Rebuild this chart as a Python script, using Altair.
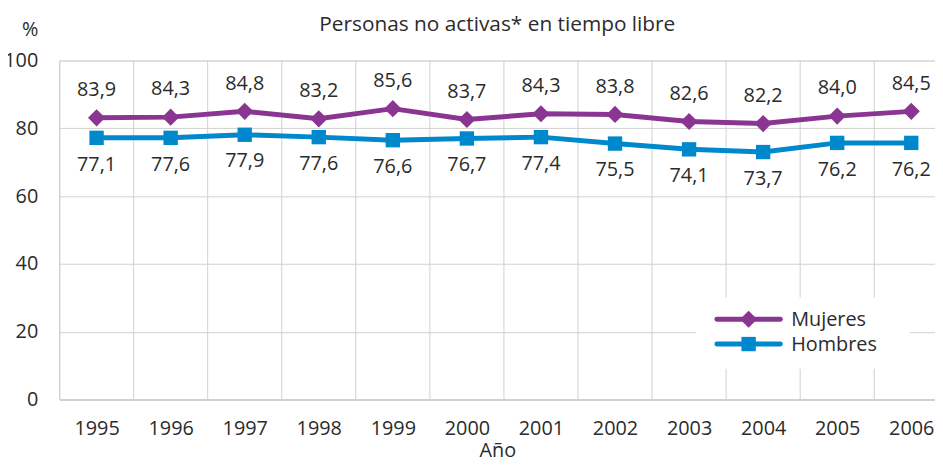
import altair as alt
import pandas as pd

years = list(range(1995, 2007))
series_names = ["Mujeres", "Hombres"]
mujeres_plot = [83.1, 83.3, 85.0, 82.8, 85.8, 82.6, 84.3, 84.1, 82.0, 81.4, 83.6, 85.0]
hombres_plot = [77.2, 77.2, 78.1, 77.4, 76.5, 77.0, 77.4, 75.5, 73.8, 73.0, 75.7, 75.7]
mujeres_labels = ["83,9", "84,3", "84,8", "83,2", "85,6", "83,7", "84,3", "83,8", "82,6", "82,2", "84,0", "84,5"]
hombres_labels = ["77,1", "77,6", "77,9", "77,6", "76,6", "76,7", "77,4", "75,5", "74,1", "73,7", "76,2", "76,2"]
y_ticks = [0, 20, 40, 60, 80, 100]

colors = ["#8B3593", "#0088CC"]
shapes = ["diamond", "square"]
FONT = "Open Sans"
TXT = "#2b2b2b"
GRID = "#d0d0d0"

rows = []
for i, y in enumerate(years):
    rows.append({"year": y, "series": "Mujeres", "value": mujeres_plot[i], "label": mujeres_labels[i]})
    rows.append({"year": y, "series": "Hombres", "value": hombres_plot[i], "label": hombres_labels[i]})
df = pd.DataFrame(rows)

bounds = pd.DataFrame({"year": [y - 0.5 for y in years]})

W, H = 883, 342
band = 74.7
xscale = alt.Scale(domain=[years[0] - 0.5, years[0] - 0.5 + W / band], nice=False, zero=False)
yscale = alt.Scale(domain=[0, 100], nice=False)
cscale = alt.Scale(domain=series_names, range=colors)
sscale = alt.Scale(domain=series_names, range=shapes)

x_axis = alt.Axis(values=years, format="d", grid=False, ticks=False,
                  domain=True, domainColor=GRID, domainWidth=2,
                  labelFont=FONT, labelFontSize=20, labelColor=TXT,
                  labelPadding=19, title="Año", titleFont=FONT,
                  titleFontSize=20, titleFontWeight="normal", titleColor=TXT,
                  titlePadding=2)
y_axis = alt.Axis(values=y_ticks, grid=True, gridColor=GRID, gridWidth=1,
                  domain=False, ticks=False, labelFont=FONT, labelFontSize=20,
                  labelColor=TXT, labelPadding=22, title="%", titleAngle=0,
                  titleX=-30, titleY=-31, titleAlign="center",
                  titleBaseline="middle", titleFont=FONT, titleFontSize=20,
                  titleFontWeight="normal", titleColor=TXT)

vgrid = alt.Chart(bounds).mark_rule(color=GRID, strokeWidth=1).encode(
    x=alt.X("year:Q", scale=xscale, axis=x_axis), y=alt.value(0), y2=alt.value(H))

base = alt.Chart(df)
lines = base.mark_line(strokeWidth=5).encode(
    x=alt.X("year:Q", scale=xscale, axis=x_axis),
    y=alt.Y("value:Q", scale=yscale, axis=y_axis),
    color=alt.Color("series:N", scale=cscale, legend=None),
    detail="series:N")
points = base.mark_point(filled=True, opacity=1).encode(
    x="year:Q", y="value:Q",
    color=alt.Color("series:N", scale=cscale, legend=None),
    shape=alt.Shape("series:N", scale=sscale, legend=None),
    size=alt.condition(alt.datum.series == "Mujeres", alt.value(300), alt.value(210)))
lab_m = base.transform_filter(alt.datum.series == "Mujeres").mark_text(
    font=FONT, fontSize=20, color=TXT, dy=-28, baseline="middle").encode(
    x="year:Q", y="value:Q", text="label:N")
lab_h = base.transform_filter(alt.datum.series == "Hombres").mark_text(
    font=FONT, fontSize=20, color=TXT, dy=27, baseline="middle").encode(
    x="year:Q", y="value:Q", text="label:N")

leg_df = pd.DataFrame({"series": series_names})
leg_bg = alt.Chart(pd.DataFrame({"k": [1]})).mark_rect(color="white").encode(
    x=alt.value(642), x2=alt.value(858), y=alt.value(239), y2=alt.value(311))
leg_layers = []
for i, s in enumerate(series_names):
    yy = 261 + 25 * i
    src = alt.Chart(leg_df).transform_filter(alt.datum.series == s)
    leg_layers.append(src.mark_rule(color=colors[i], strokeWidth=5, strokeCap="round").encode(
        x=alt.value(663), x2=alt.value(727), y=alt.value(yy)))
    leg_layers.append(src.mark_point(filled=True, opacity=1, color=colors[i], shape=shapes[i],
                                     size=300 if i == 0 else 210).encode(
        x=alt.value(695), y=alt.value(yy)))
    leg_layers.append(src.mark_text(font=FONT, fontSize=20, color=TXT, align="left",
                                    baseline="middle").encode(
        x=alt.value(738), y=alt.value(yy + 1), text="series:N"))

chart = alt.layer(vgrid, leg_bg, lines, points, lab_m, lab_h, *leg_layers).properties(
    width=W, height=H,
    title=alt.TitleParams("Personas no activas* en tiempo libre", anchor="middle",
                          frame="group", font=FONT, fontSize=21, fontWeight="normal",
                          color=TXT, offset=-15),
    padding={"left": 52, "top": 51, "right": 0, "bottom": 60},
    autosize=alt.AutoSizeParams(type="none"),
).configure_view(strokeWidth=0).configure(background="white")

chart.save("out.html", embed_options={"renderer": "svg", "actions": False})
